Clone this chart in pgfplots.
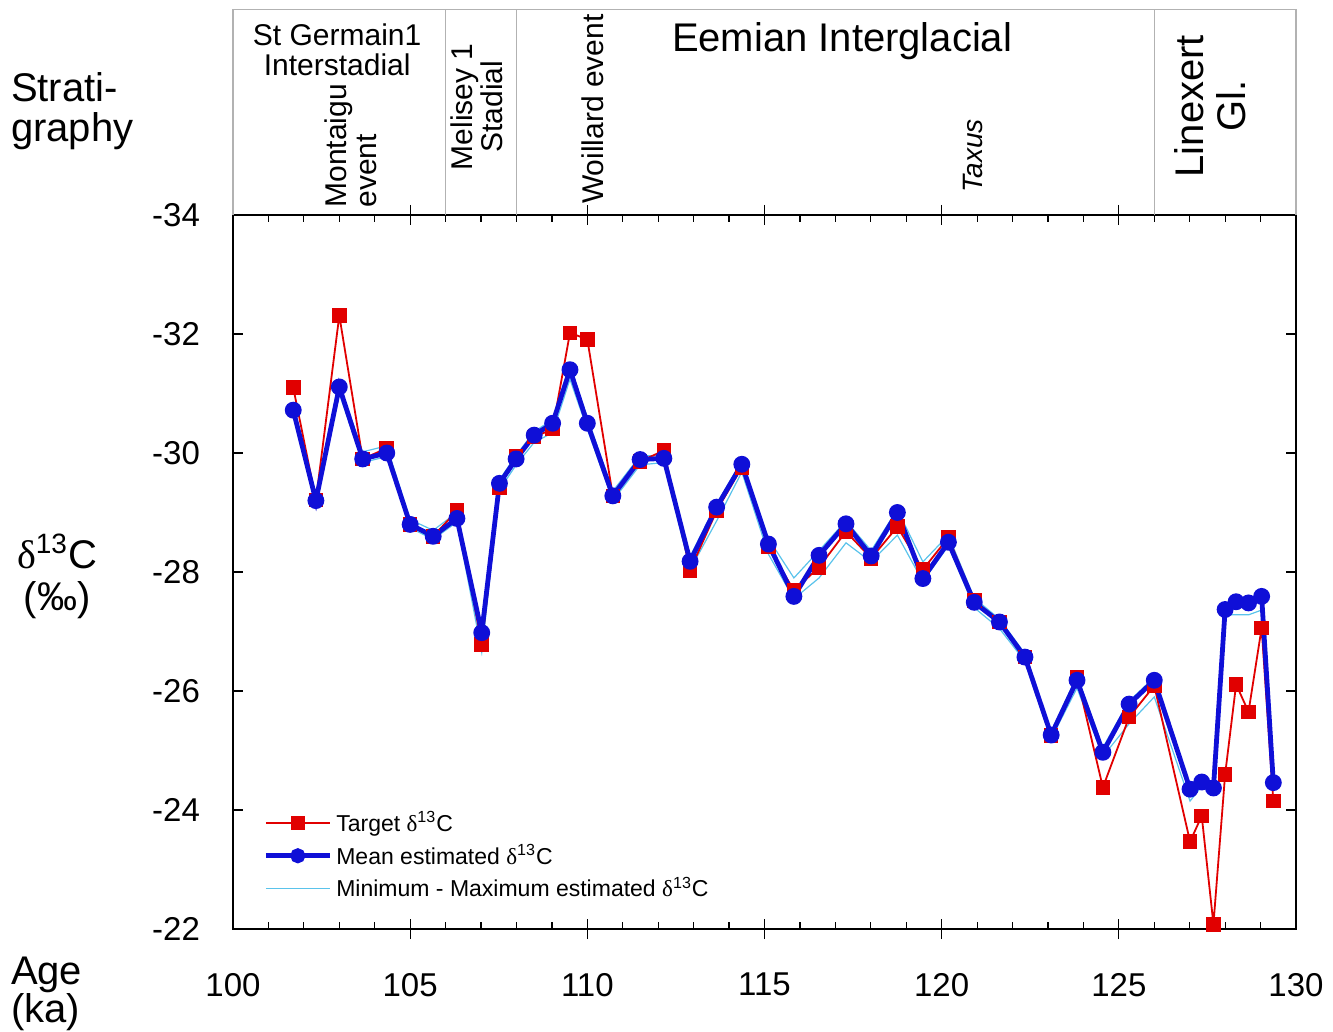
\documentclass[border=0pt]{standalone}
\usepackage{fontspec}
\setmainfont{Liberation Sans}
\newfontfamily\grk{Liberation Serif}
\usepackage{pgfplots}
\usepackage{pgfplotstable}
\pgfplotsset{compat=1.18}
\definecolor{tred}{RGB}{225,0,0}
\definecolor{mblue}{RGB}{15,15,215}
\definecolor{mmcyan}{RGB}{90,195,235}

\pgfplotstableread{
x target mean min max
101.70 -31.10 -30.72 -30.80 -30.64
102.34 -29.21 -29.20 -29.30 -29.14
103.00 -32.31 -31.11 -31.16 -31.00
103.66 -29.90 -29.90 -30.02 -29.84
104.34 -30.08 -30.00 -30.12 -29.94
105.00 -28.80 -28.80 -28.88 -28.74
105.65 -28.60 -28.60 -28.70 -28.55
106.32 -29.03 -28.90 -29.00 -28.84
107.02 -26.78 -26.98 -27.05 -26.65
107.52 -29.42 -29.49 -29.55 -29.38
107.99 -29.94 -29.90 -29.96 -29.80
108.50 -30.27 -30.30 -30.36 -30.18
109.02 -30.40 -30.50 -30.56 -30.34
109.51 -32.02 -31.40 -31.46 -31.24
110.00 -31.91 -30.50 -30.60 -30.40
110.72 -29.28 -29.28 -29.36 -29.20
111.49 -29.86 -29.89 -29.95 -29.80
112.16 -30.04 -29.91 -29.96 -29.84
112.90 -28.03 -28.18 -28.26 -28.04
113.65 -29.03 -29.09 -29.15 -28.86
114.36 -29.76 -29.81 -29.86 -29.68
115.11 -28.42 -28.47 -28.56 -28.30
115.83 -27.69 -27.59 -27.90 -27.55
116.54 -28.08 -28.28 -28.36 -27.90
117.30 -28.68 -28.81 -28.86 -28.49
118.01 -28.23 -28.27 -28.36 -28.17
118.75 -28.76 -29.00 -29.05 -28.62
119.47 -28.04 -27.89 -28.17 -27.84
120.19 -28.58 -28.50 -28.62 -28.44
120.92 -27.52 -27.49 -27.56 -27.40
121.63 -27.16 -27.16 -27.21 -27.05
122.35 -26.57 -26.57 -26.63 -26.50
123.09 -25.25 -25.26 -25.31 -25.20
123.82 -26.23 -26.18 -26.26 -26.05
124.55 -24.38 -24.97 -25.05 -24.90
125.29 -25.56 -25.78 -25.83 -25.45
126.00 -26.09 -26.18 -26.23 -25.90
127.01 -23.47 -24.35 -24.40 -24.15
127.34 -23.90 -24.47 -24.53 -24.40
127.67 -22.08 -24.37 -24.43 -24.30
128.00 -24.60 -27.37 -27.43 -27.28
128.31 -26.11 -27.50 -27.56 -27.28
128.66 -25.65 -27.48 -27.55 -27.28
129.03 -27.06 -27.59 -27.65 -27.36
129.36 -24.15 -24.46 -24.55 -24.35
}\data

\begin{document}
\begin{tikzpicture}[x=1pt,y=1pt]
\useasboundingbox (0,0) rectangle (666.5,516);
\begin{axis}[
  at={(116.5pt,51.5pt)}, anchor=south west,
  scale only axis, width=531.5pt, height=357pt,
  xmin=100, xmax=130, ymin=-34, ymax=-22, y dir=reverse,
  clip=false,
  axis line style={line width=1.3pt},
  tick align=inside,
  xtick={100,105,...,130},
  minor x tick num=4,
  ytick={-34,-32,...,-22},
  major tick length=5pt, minor tick length=3.5pt,
  every tick/.style={black, line width=0.6pt},
  extra x ticks={105,110,115,120,125},
  extra x tick labels={},
  extra x tick style={tick align=outside},
  /pgf/number format/assume math mode=true,
  tick label style={font=\fontsize{16.5}{16.5}\selectfont},
  xticklabel style={yshift=-18.5pt},
  yticklabel style={xshift=-13pt},
  legend style={at={(axis description cs:0.0225,0.176)}, anchor=north west,
    draw=none, fill=none, font=\fontsize{11.5}{12}\selectfont,
    row sep=0.8pt, cells={anchor=west}},
  legend image code/.code={\draw[mark repeat=2,mark phase=2,#1]
     plot coordinates {(0pt,0pt) (16pt,0pt) (32pt,0pt)};},
]
% stratigraphy box
\draw[gray!60, line width=0.7pt] (axis cs:100,-34) -- (axis cs:100,-37.45) -- (axis cs:130,-37.45) -- (axis cs:130,-34);
\draw[gray!60, line width=0.6pt] (axis cs:106,-34) -- (axis cs:106,-37.45);
\draw[gray!60, line width=0.6pt] (axis cs:108,-34) -- (axis cs:108,-37.45);
\draw[gray!60, line width=0.6pt] (axis cs:126,-34) -- (axis cs:126,-37.45);
\node[align=center, font=\fontsize{15}{15}\selectfont] at (axis cs:102.94,-36.77) {St Germain1\\Interstadial};
\node[rotate=90, anchor=west, align=left, font=\fontsize{15}{15}\selectfont, inner sep=0pt] at (axis cs:103.33,-34.12) {Montaigu\\event};
\node[rotate=90, align=center, font=\fontsize{15}{15}\selectfont] at (axis cs:106.89,-35.82) {Melisey 1\\Stadial};
\node[rotate=90, anchor=west, font=\fontsize{15}{15}\selectfont, inner sep=0pt] at (axis cs:110.16,-34.18) {Woillard event};
\node[font=\fontsize{20}{20}\selectfont] at (axis cs:117.19,-36.92) {Eemian Interglacial};
\node[rotate=90, font=\fontsize{14}{14}\itshape] at (axis cs:120.89,-34.99) {Taxus};
\node[rotate=90, align=center, font=\fontsize{20}{21}\selectfont] at (axis cs:127.58,-35.83) {Linexert\\Gl.};

% legend entries
\addlegendimage{draw=tred, line width=0.8pt, mark=square*, mark size=3.2pt, mark options={fill=tred, draw=tred}}
\addlegendentry{Target {\grk δ}\textsuperscript{13}C}
\addlegendimage{draw=mblue, line width=2.5pt, mark=*, mark size=2.5pt, mark options={fill=mblue, draw=mblue}}
\addlegendentry{Mean estimated {\grk δ}\textsuperscript{13}C}
\addlegendimage{draw=mmcyan, line width=0.6pt}
\addlegendentry{Minimum - Maximum estimated {\grk δ}\textsuperscript{13}C}

% data
\addplot[mmcyan, line width=0.6pt, forget plot] table[x=x, y=min] {\data};
\addplot[mmcyan, line width=0.6pt, forget plot] table[x=x, y=max] {\data};
\addplot[tred, line width=0.9pt, mark=square*, mark size=3.2pt, forget plot] table[x=x, y=target] {\data};
\addplot[mblue, line width=2.4pt, mark=*, mark size=3pt, forget plot] table[x=x, y=mean] {\data};
\end{axis}
\node[anchor=west, align=left, font=\fontsize{20}{20}\selectfont] at (2pt,460.5pt) {Strati-\\graphy};
\node[align=center, font=\fontsize{20}{21}\selectfont] at (28.5pt,228pt) {{\grk δ}\textsuperscript{13}C\\(‰)};
\node[anchor=west, align=left, font=\fontsize{20}{19}\selectfont] at (2pt,19pt) {Age\\(ka)};
\end{tikzpicture}
\end{document}
